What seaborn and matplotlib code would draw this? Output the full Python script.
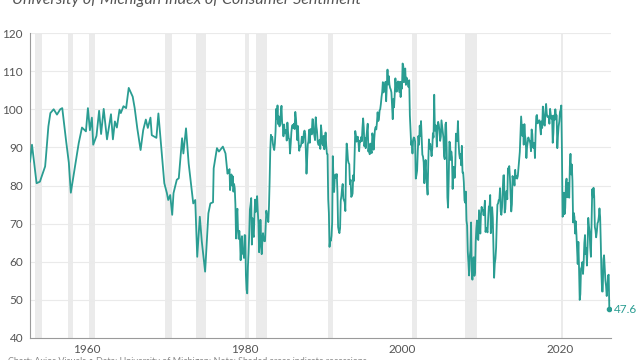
import matplotlib
matplotlib.use("Agg")
import matplotlib.pyplot as plt
import matplotlib.dates as mdates
import numpy as np
import pandas as pd
import seaborn as sns

# ---------------- data ----------------
title_text = "University of Michigan Index of Consumer Sentiment"
footer_text = "Chart: Axios Visuals \u2022 Data: University of Michigan; Note: Shaded areas indicate recessions"

# early (quarterly / irregular) readings, 1952-1977
early_dates = [
    "1952-11", "1953-02", "1953-09", "1954-02", "1954-10", "1954-11", "1955-03", "1955-06",
    "1955-11", "1956-04", "1956-09", "1956-12", "1957-06", "1957-10", "1958-01", "1959-01",
    "1959-06", "1959-12", "1960-03", "1960-06", "1960-09", "1960-11", "1961-04", "1961-08",
    "1961-11", "1962-03", "1962-08", "1963-02", "1963-05", "1963-08", "1963-11", "1964-03",
    "1964-05", "1964-09", "1965-01", "1965-05", "1965-11", "1966-02", "1966-06", "1966-11",
    "1967-03", "1967-07", "1967-10", "1968-02", "1968-04", "1968-09", "1968-11", "1969-02",
    "1969-11", "1970-03", "1970-05", "1970-08", "1970-11", "1971-01", "1971-06", "1971-09",
    "1972-02", "1972-04", "1972-08", "1972-12", "1973-07", "1973-10", "1974-01", "1974-05",
    "1974-08", "1975-01", "1975-06", "1975-09", "1976-01", "1976-02", "1976-07", "1976-10",
    "1977-04", "1977-08", "1977-11",
]
early_values = [
    86.2, 90.7, 80.6, 81.0, 85.0, 87.0, 95.5, 99.0,
    100.0, 98.6, 100.0, 100.3, 91.5, 86.0, 78.1, 91.1,
    95.2, 94.2, 100.3, 94.5, 97.8, 90.7, 93.0, 99.6,
    93.5, 100.1, 92.1, 98.7, 92.1, 96.8, 95.2, 99.9,
    99.0, 100.8, 100.3, 105.6, 103.3, 100.3, 95.0, 89.3,
    94.5, 97.3, 95.1, 97.8, 93.2, 92.7, 92.5, 98.9,
    80.6, 78.0, 76.2, 77.5, 72.3, 78.0, 81.5, 81.9,
    92.4, 88.4, 95.0, 85.8, 75.3, 76.2, 61.3, 71.8,
    65.3, 57.4, 72.7, 75.3, 75.6, 84.5, 89.8, 88.9,
    90.2, 88.4, 83.1,
]

# monthly readings from January 1978
monthly_start = "1978-01"
v1978_1989 = [
    83.7, 84.3, 78.8, 81.6, 82.9, 80.0, 82.4, 78.4, 80.4, 79.3, 75.0, 66.1,
    72.1, 73.9, 68.4, 66.0, 68.1, 65.8, 60.4, 64.5, 66.7, 62.1, 63.3, 61.0,
    67.0, 66.9, 56.5, 52.7, 51.7, 58.7, 62.3, 67.3, 73.7, 75.0, 76.7, 64.5,
    71.4, 66.9, 66.5, 72.4, 76.3, 73.1, 74.1, 77.2, 73.1, 70.3, 62.5, 64.3,
    71.0, 66.5, 62.0, 65.5, 67.5, 65.7, 65.4, 65.4, 69.3, 73.4, 72.1, 71.9,
    70.4, 74.6, 80.8, 89.1, 93.3, 92.2, 92.8, 90.9, 89.9, 89.3, 91.1, 94.2,
    100.1, 97.4, 101.0, 96.1, 98.1, 95.5, 96.6, 99.1, 100.9, 96.3, 95.7, 92.9,
    96.0, 93.7, 93.7, 94.6, 91.8, 96.5, 94.0, 92.4, 92.1, 88.4, 90.9, 93.9,
    95.6, 95.9, 95.1, 96.2, 94.8, 99.3, 97.7, 94.9, 91.9, 95.6, 91.4, 89.1,
    90.4, 90.2, 90.8, 92.8, 91.1, 91.5, 93.7, 94.4, 93.6, 89.3, 83.1, 86.8,
    90.8, 91.6, 94.6, 91.2, 94.8, 94.7, 93.4, 97.4, 97.3, 94.1, 93.0, 91.9,
    97.9, 95.4, 94.3, 91.5, 90.7, 90.6, 92.0, 89.6, 95.8, 93.9, 90.9, 90.5,
]
v1990_1999 = [
    93.0, 89.5, 91.3, 93.9, 90.6, 88.3, 88.2, 76.4, 72.8, 63.9, 66.0, 65.5,
    66.8, 70.4, 87.7, 81.8, 78.3, 82.1, 82.9, 82.0, 83.0, 78.3, 69.1, 68.2,
    67.5, 68.8, 76.0, 77.2, 79.2, 80.4, 76.6, 76.1, 75.6, 73.3, 85.3, 91.0,
    89.3, 86.6, 85.9, 85.6, 80.3, 81.5, 77.0, 77.3, 77.9, 82.7, 81.2, 88.2,
    94.3, 93.2, 91.5, 92.6, 92.8, 91.2, 89.0, 91.7, 91.5, 92.7, 91.6, 95.1,
    97.6, 95.1, 90.3, 92.5, 89.8, 92.7, 94.4, 96.2, 88.9, 90.2, 88.2, 91.0,
    89.3, 88.5, 93.7, 92.7, 89.4, 92.4, 94.7, 95.3, 94.7, 96.5, 99.2, 96.9,
    97.4, 99.7, 100.0, 101.4, 103.2, 104.5, 107.1, 104.4, 106.0, 105.6, 107.2, 102.1,
    106.6, 110.4, 106.5, 108.7, 106.5, 105.6, 105.2, 104.4, 100.9, 97.4, 102.7, 100.5,
    103.9, 108.1, 105.7, 104.6, 106.8, 107.3, 106.0, 104.5, 107.2, 103.2, 107.2, 105.4,
]
v2000_2009 = [
    112.0, 111.3, 107.1, 109.2, 110.7, 106.4, 108.3, 107.3, 106.8, 105.8, 107.6, 98.4,
    94.7, 90.6, 91.5, 88.4, 92.0, 92.6, 92.4, 91.5, 81.8, 82.7, 83.9, 88.8,
    93.0, 90.7, 95.7, 93.0, 96.9, 92.4, 88.1, 87.6, 86.1, 80.6, 84.2, 86.7,
    82.4, 79.9, 77.6, 86.0, 92.1, 89.7, 90.9, 89.3, 87.7, 89.6, 93.7, 92.6,
    103.8, 94.4, 95.8, 94.2, 90.2, 95.6, 96.7, 95.9, 94.2, 91.7, 92.8, 97.1,
    95.5, 94.1, 92.6, 87.7, 86.9, 96.0, 96.5, 89.1, 76.9, 74.2, 81.6, 91.5,
    91.2, 86.7, 88.9, 87.4, 79.1, 84.9, 84.7, 82.0, 85.4, 93.6, 92.1, 91.7,
    96.9, 91.3, 88.4, 87.1, 88.3, 85.3, 90.4, 83.4, 83.4, 80.9, 76.1, 75.5,
    78.4, 70.8, 69.5, 62.6, 59.8, 56.4, 61.2, 63.0, 70.3, 57.6, 55.3, 60.1,
    61.2, 56.3, 57.3, 65.1, 68.7, 70.8, 66.0, 65.7, 73.5, 70.6, 67.4, 72.5,
]
v2010_2019 = [
    74.4, 73.6, 73.6, 72.2, 73.6, 76.0, 67.8, 68.9, 68.2, 67.7, 71.6, 74.5,
    74.2, 77.5, 67.5, 69.8, 74.3, 71.5, 63.7, 55.8, 59.5, 60.8, 63.7, 69.9,
    75.0, 75.3, 76.2, 76.4, 79.3, 73.2, 72.3, 74.3, 78.3, 82.6, 82.7, 72.9,
    73.8, 77.6, 78.6, 76.4, 84.5, 84.1, 85.1, 82.1, 77.5, 73.2, 75.1, 82.5,
    81.2, 81.6, 80.0, 84.1, 81.9, 82.5, 81.8, 82.5, 84.6, 86.9, 88.8, 93.6,
    98.1, 95.4, 93.0, 95.9, 90.7, 96.1, 93.1, 91.9, 87.2, 90.0, 91.3, 92.6,
    92.0, 91.7, 91.0, 89.0, 94.7, 93.5, 90.0, 89.8, 91.2, 87.2, 93.8, 98.2,
    98.5, 96.3, 96.9, 97.0, 97.1, 95.0, 93.4, 96.8, 95.1, 100.7, 98.5, 95.9,
    95.7, 99.7, 101.4, 98.8, 98.0, 98.2, 97.9, 96.2, 100.1, 98.6, 97.5, 98.3,
    91.2, 93.8, 98.4, 97.2, 100.0, 98.2, 98.4, 89.8, 93.2, 95.5, 96.8, 99.3,
]
v2020_2026 = [
    99.8, 101.0, 89.1, 71.8, 72.3, 78.1, 72.5, 74.1, 80.4, 81.8, 76.9, 80.7,
    79.0, 76.8, 84.9, 88.3, 82.9, 85.5, 81.2, 70.3, 72.8, 71.7, 67.4, 70.6,
    67.2, 62.8, 59.4, 65.2, 58.4, 50.0, 51.5, 58.2, 58.6, 59.9, 56.8, 59.7,
    64.9, 67.0, 62.0, 63.5, 59.0, 64.2, 71.5, 69.4, 67.9, 63.8, 61.3, 69.7,
    79.0, 76.9, 79.4, 77.2, 69.1, 68.2, 66.4, 67.9, 70.1, 70.5, 71.8, 74.0,
    71.7, 64.7, 57.0, 52.2, 52.2, 60.7, 61.7, 58.2, 55.1, 53.6, 51.0, 52.9,
    56.4, 56.6, 47.6,
]

recession_starts = ["1953-07", "1957-08", "1960-04", "1969-12", "1973-11", "1980-01",
                    "1981-07", "1990-07", "2001-03", "2007-12", "2020-02"]
recession_ends = ["1954-05", "1958-04", "1961-02", "1970-11", "1975-03", "1980-07",
                  "1982-11", "1991-03", "2001-11", "2009-06", "2020-04"]

y_ticks = [40, 50, 60, 70, 80, 90, 100, 110, 120]
x_tick_years = [1960, 1980, 2000, 2020]

# ---------------- build frame ----------------
monthly_values = v1978_1989 + v1990_1999 + v2000_2009 + v2010_2019 + v2020_2026
monthly_dates = pd.date_range(monthly_start, periods=len(monthly_values), freq="MS")
df = pd.DataFrame({
    "date": list(pd.to_datetime(early_dates)) + list(monthly_dates),
    "value": early_values + monthly_values,
})

# ---------------- style ----------------
sns.set_theme(style="white")
plt.rcParams["font.family"] = ["Lato", "DejaVu Sans"]

teal = "#2a9d92"
gray_text = "#555555"

fig = plt.figure(figsize=(6.4, 3.6), dpi=100)
ax = fig.add_axes([30 / 640, 22 / 360, 581 / 640, 305 / 360])

for s, e in zip(recession_starts, recession_ends):
    ax.axvspan(pd.Timestamp(s), pd.Timestamp(e), color="#ebebeb", lw=0, zorder=0)

for yv in y_ticks[1:]:
    ax.axhline(yv, color="#eaeaea", lw=0.8, zorder=0.5)

sns.lineplot(data=df, x="date", y="value", color=teal, linewidth=1.3, ax=ax, zorder=3)

last = df.iloc[-1]
ax.scatter([last["date"]], [last["value"]], s=9, color=teal, zorder=4)
ax.annotate(f"{last['value']:.1f}", (last["date"], last["value"]), xytext=(3, 0),
            textcoords="offset points", va="center", ha="left", color=teal, fontsize=8.5)

ax.set_xlim(pd.Timestamp("1952-11-01"), pd.Timestamp("2026-05-18"))
ax.set_ylim(40, 120)
ax.set_yticks(y_ticks)
ax.set_xticks([pd.Timestamp(f"{y}-01-01") for y in x_tick_years])
ax.xaxis.set_major_formatter(mdates.DateFormatter("%Y"))
ax.set_xlabel("")
ax.set_ylabel("")

for side in ["top", "right"]:
    ax.spines[side].set_visible(False)
for side in ["left", "bottom"]:
    ax.spines[side].set_color("#9a9a9a")
    ax.spines[side].set_linewidth(0.8)

ax.tick_params(axis="y", length=3.5, width=0.8, color="#9a9a9a", labelsize=8.5,
               labelcolor=gray_text, pad=1.5)
ax.tick_params(axis="x", length=0, labelsize=8.5, labelcolor=gray_text, pad=4)

fig.text(12 / 640, 1 - 4 / 360, title_text, fontsize=11.5, style="italic",
         color=gray_text, va="baseline", ha="left")
fig.text(8 / 640, 1 - 357 / 360, footer_text, fontsize=6.5, color="#888888",
         va="top", ha="left")

fig.savefig("out.png", dpi=100)
